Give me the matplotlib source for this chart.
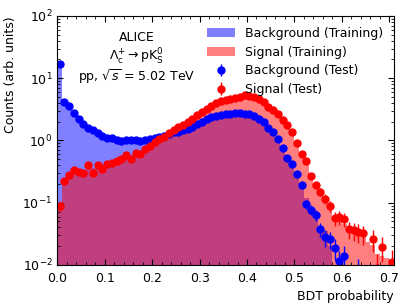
import numpy as np
import matplotlib
matplotlib.use("Agg")
import matplotlib.pyplot as plt

# BDT output binning (0.01 wide bins)
bin_edges = np.round(np.arange(72) * 0.01, 2)
bin_centers = 0.5 * (bin_edges[:-1] + bin_edges[1:])

nan = np.nan

bkg_train = [17.5, 4.3, 3.4, 2.9, 2.3, 1.9, 1.65, 1.45, 1.32, 1.2,
             1.12, 1.07, 1.05, 1.02, 1.0, 1.0, 1.01, 1.02, 1.04, 1.07,
             1.1, 1.14, 1.19, 1.25, 1.32, 1.4, 1.48, 1.57, 1.68, 1.82,
             1.97, 2.12, 2.28, 2.42, 2.55, 2.63, 2.68, 2.7, 2.7, 2.66,
             2.58, 2.45, 2.25, 1.98, 1.65, 1.33, 1.03, 0.76, 0.54, 0.39,
             0.27, 0.18, 0.12, 0.08, 0.055, 0.042, 0.035, 0.02, 0, 0,
             0, 0, 0, 0, 0, 0, 0, 0, 0, 0, 0]

sig_train = [0.08, 0.2, 0.27, 0.3, 0.31, 0.33, 0.35, 0.36, 0.38, 0.4,
             0.42, 0.44, 0.47, 0.5, 0.54, 0.57, 0.61, 0.66, 0.72, 0.8,
             0.9, 1.0, 1.12, 1.25, 1.4, 1.57, 1.75, 1.95, 2.17, 2.45,
             2.75, 3.1, 3.45, 3.8, 4.1, 4.35, 4.55, 4.75, 4.9, 5.0,
             4.95, 4.75, 4.4, 3.95, 3.45, 2.95, 2.5, 2.0, 1.6, 1.25,
             0.9, 0.63, 0.44, 0.3, 0.21, 0.15, 0.11, 0.08, 0.058, 0.052,
             0.045, 0.04, 0.033, 0.032, 0.03, 0.023, 0.021, 0.015, 0.014, 0.013,
             0.012]

bkg_test = [17.0, 4.1, 3.6, 2.8, 2.25, 1.85, 1.6, 1.45, 1.3, 1.18,
            1.08, 1.1, 1.02, 0.97, 1.0, 1.02, 1.0, 0.97, 1.03, 1.06,
            1.1, 1.15, 1.2, 1.28, 1.35, 1.38, 1.45, 1.55, 1.65, 1.85,
            2.0, 2.2, 2.35, 2.5, 2.6, 2.65, 2.7, 2.72, 2.75, 2.7,
            2.62, 2.5, 2.25, 1.95, 1.6, 1.35, 1.05, 0.76, 0.53, 0.42,
            0.29, 0.19, 0.095, 0.077, 0.063, 0.038, 0.028, 0.026, 0.019, 0.0115,
            0.014, nan, nan, 0.008, nan, nan, nan, nan, nan, nan,
            nan]

sig_test = [0.09, 0.22, 0.28, 0.34, 0.31, 0.30, 0.40, 0.30, 0.40, 0.35,
            0.42, 0.43, 0.46, 0.51, 0.59, 0.51, 0.63, 0.60, 0.74, 0.80,
            0.95, 1.05, 1.15, 1.3, 1.45, 1.62, 1.8, 2.0, 2.2, 2.55,
            2.85, 3.25, 3.6, 3.95, 4.25, 4.45, 4.65, 4.85, 5.0, 5.3,
            5.2, 4.9, 4.55, 4.1, 3.5, 3.05, 2.68, 2.1, 1.75, 1.36,
            0.91, 0.61, 0.46, 0.27, 0.19, 0.15, 0.115, 0.09, 0.057, 0.059,
            0.055, 0.038, 0.036, 0.034, 0.032, nan, 0.026, 0.009, 0.0195, nan,
            0.011]

# per-entry weights of the normalised test samples (poisson errors)
bkg_weight = 0.0025
sig_weight = 0.0037

bkg_test = np.array(bkg_test)
sig_test = np.array(sig_test)
bkg_err = np.sqrt(bkg_test * bkg_weight)
sig_err = np.sqrt(sig_test * sig_weight)

plt.rcParams["xtick.direction"] = "in"
plt.rcParams["ytick.direction"] = "in"
plt.rcParams["xtick.top"] = True
plt.rcParams["ytick.right"] = True
plt.rcParams["xtick.minor.visible"] = True

fig = plt.figure(figsize=(4.07, 3.07), dpi=100)
ax = fig.add_axes([0.141, 0.137, 0.827, 0.811])

h_bkg = ax.hist(bin_centers, bins=bin_edges, weights=bkg_train, histtype="stepfilled",
                color="b", alpha=0.5, log=True, label="Background (Training)")[2][0]
h_sig = ax.hist(bin_centers, bins=bin_edges, weights=sig_train, histtype="stepfilled",
                color="r", alpha=0.5, log=True, label="Signal (Training)")[2][0]

e_bkg = ax.errorbar(bin_centers, bkg_test, yerr=bkg_err, fmt="o", color="b",
                    markersize=5, linewidth=1, label="Background (Test)")
e_sig = ax.errorbar(bin_centers, sig_test, yerr=sig_err, fmt="o", color="r",
                    markersize=5, linewidth=1, label="Signal (Test)")

ax.set_yscale("log")
ax.set_xlim(0, 0.71)
ax.set_ylim(1e-2, 1e2)
ax.tick_params(labelsize=9)
ax.tick_params(axis="x", pad=5)
ax.tick_params(which="major", length=4)
ax.tick_params(which="minor", length=2)

ax.set_xlabel("BDT probability", fontsize=9, ha="right", x=1.0)
ax.set_ylabel("Counts (arb. units)", fontsize=9, ha="right", y=1.0)

ax.legend(handles=[h_bkg, h_sig, e_bkg, e_sig], loc="upper right", frameon=False,
          fontsize=9, handlelength=2.2, labelspacing=0.45)

ax.text(0.236, 0.913, "ALICE", transform=ax.transAxes, ha="center", va="center", fontsize=9)
ax.text(0.236, 0.835, r"$\Lambda_{\rm c}^{+}\rightarrow {\rm pK^{0}_{S}}$", transform=ax.transAxes,
        ha="center", va="center", fontsize=9)
ax.text(0.236, 0.757, r"pp, $\sqrt{s}$ = 5.02 TeV", transform=ax.transAxes,
        ha="center", va="center", fontsize=9)

fig.savefig("out.png", dpi=100)
